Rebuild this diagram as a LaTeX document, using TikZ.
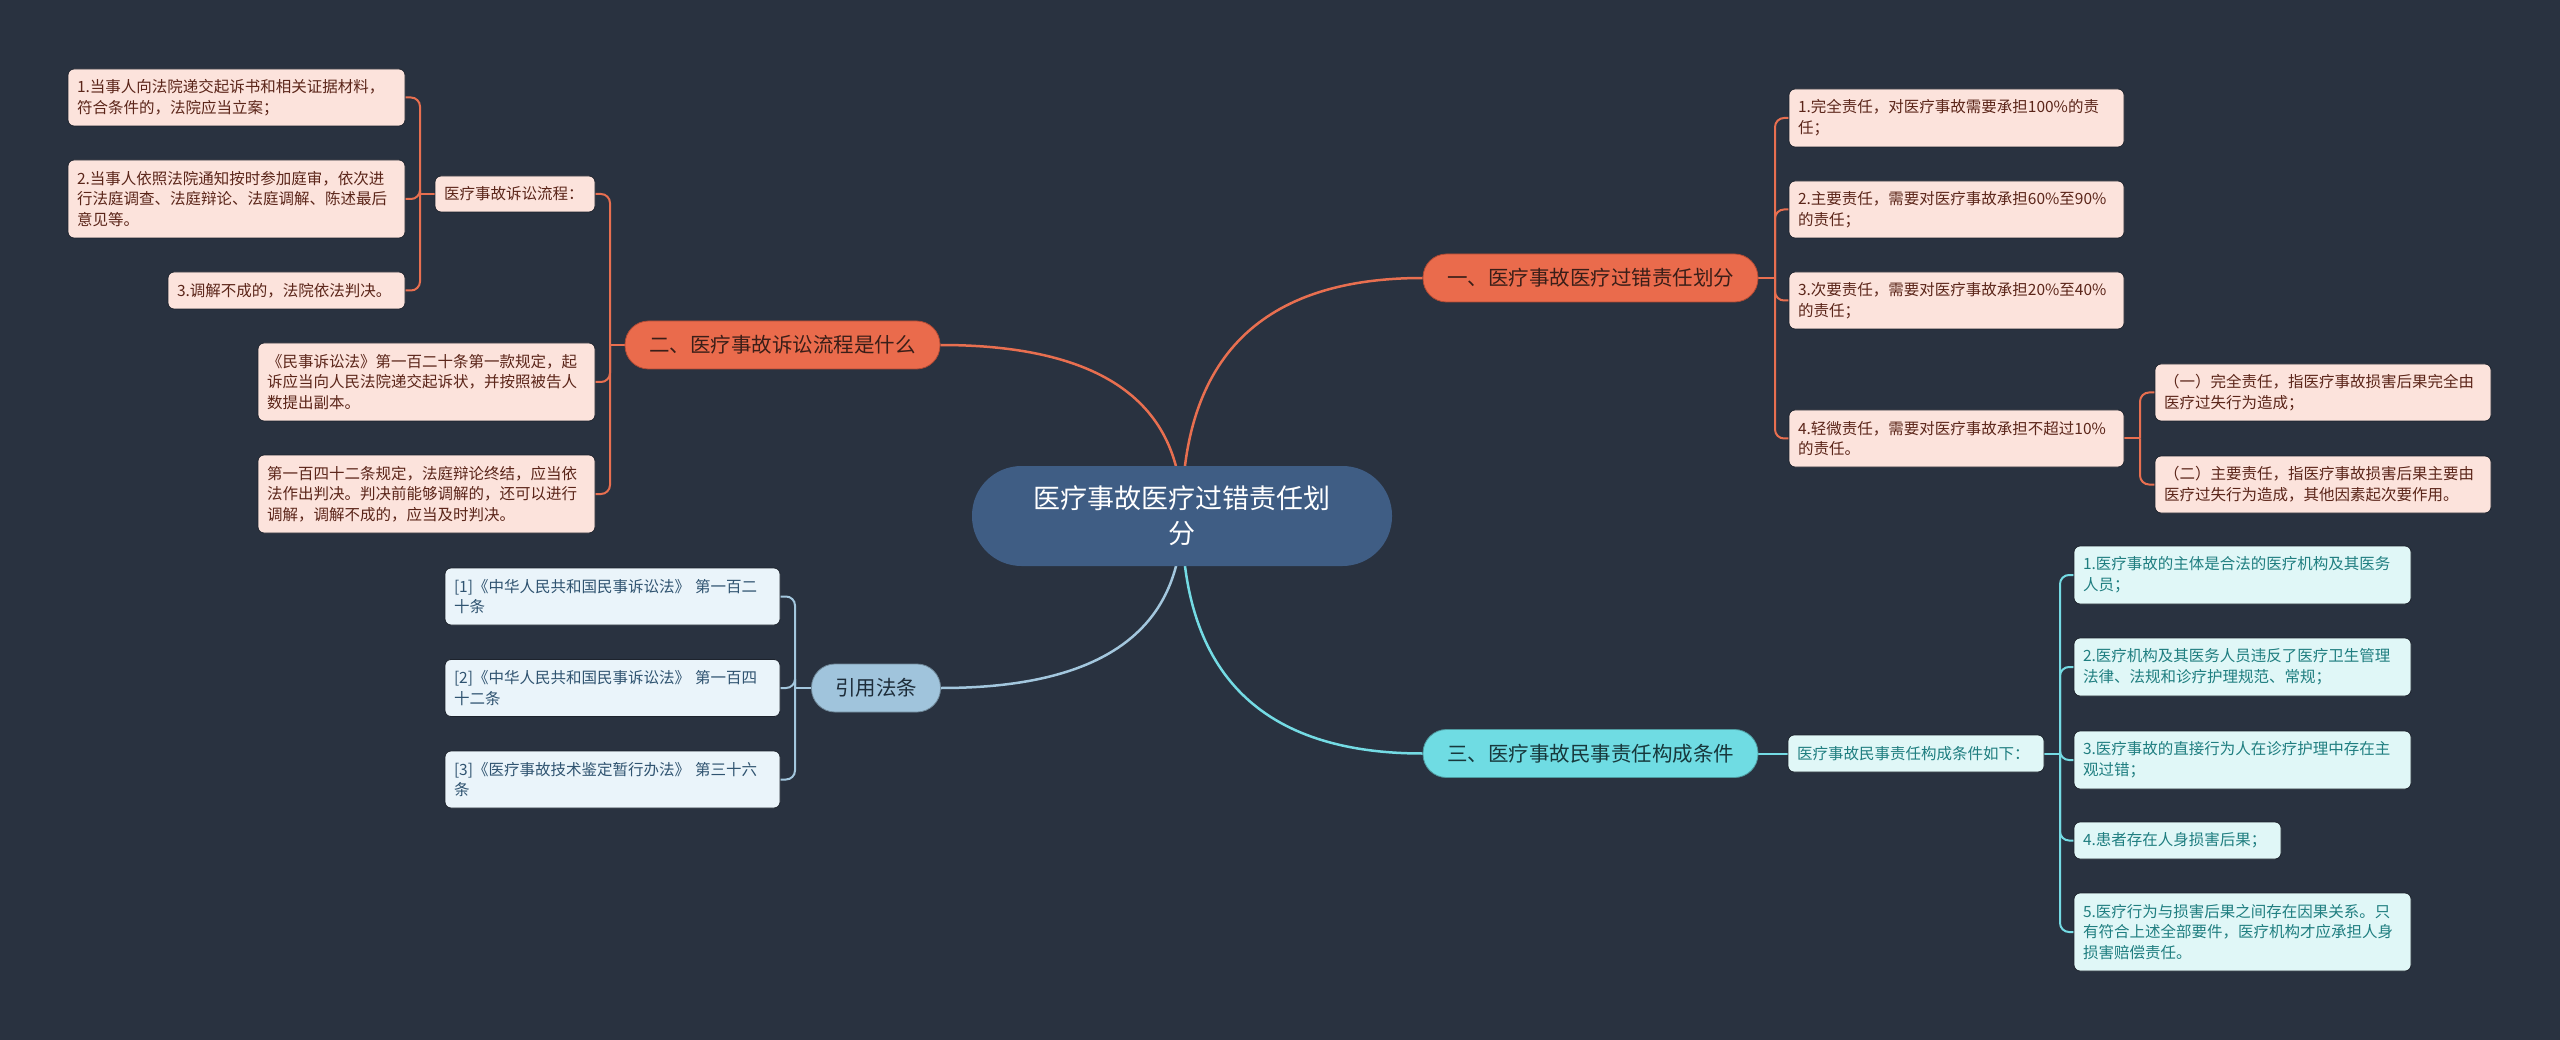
\documentclass[tikz,border=0pt]{standalone}
\usepackage{fontspec}
\setmainfont{Noto Sans CJK SC}
\definecolor{bgc}{HTML}{293240}
\definecolor{rootc}{HTML}{3F5D84}
\definecolor{obr}{HTML}{EA6B4C}
\definecolor{obrd}{HTML}{B04A34}
\definecolor{obrt}{HTML}{3A1E18}
\definecolor{olf}{HTML}{FCE3DC}
\definecolor{olft}{HTML}{5B2519}
\definecolor{oln}{HTML}{E86F50}
\definecolor{bbr}{HTML}{A0C4DC}
\definecolor{bbrt}{HTML}{1E2D3A}
\definecolor{blf}{HTML}{EAF4FA}
\definecolor{blft}{HTML}{2F5370}
\definecolor{bln}{HTML}{A3C7DE}
\definecolor{cbr}{HTML}{6FDCE3}
\definecolor{cbrt}{HTML}{17383C}
\definecolor{clf}{HTML}{E0F7F7}
\definecolor{clft}{HTML}{1F7E80}
\definecolor{cln}{HTML}{74DBE4}
\definecolor{edgec}{HTML}{1D232D}
\pgfdeclarelayer{bgl}
\pgfdeclarelayer{linel}
\pgfsetlayers{bgl,linel,main}
\begin{document}
\begin{tikzpicture}[x=1pt,y=-1pt,
  leafbox/.style={rectangle, rounded corners=6pt, inner xsep=9pt, inner ysep=2pt, align=left,
    font=\fontsize{15.5}{20.7}\selectfont, draw=edgec, line width=0.8pt},
  oleaf/.style={leafbox, fill=olf, text=olft},
  bleaf/.style={leafbox, fill=blf, text=blft},
  cleaf/.style={leafbox, fill=clf, text=clft},
  brbox/.style={rectangle, rounded corners=23.5pt, minimum height=48pt, inner sep=0pt,
    font=\fontsize{20.5}{24}\selectfont, line width=0.8pt},
  obranch/.style={brbox, fill=obr, draw=obrd, text=obrt},
  bbranch/.style={brbox, fill=bbr, draw=bbr!70!black, text=bbrt},
  cbranch/.style={brbox, fill=cbr, draw=cbr!70!black, text=cbrt},
  rootbox/.style={rectangle, rounded corners=49.5pt, minimum width=420pt, minimum height=100pt,
    fill=rootc, text=white, align=center, font=\fontsize{27}{35}\selectfont, inner sep=0pt},
  ol/.style={draw=oln, line width=2pt},
  bl/.style={draw=bln, line width=2pt},
  cl/.style={draw=cln, line width=2pt},
  rcorner/.style={rounded corners=9pt}
]
\useasboundingbox (0,0) rectangle (2560,1040);
\begin{pgfonlayer}{bgl}
\fill[bgc] (0,0) rectangle (2560,1040);
\end{pgfonlayer}

% root
\node[rootbox] (root) at (1182,516) {医疗事故医疗过错责任划\\分};

% branches
\node[obranch, minimum width=335pt] (b1) at (1590.5,278) {一、医疗事故医疗过错责任划分};
\node[obranch, minimum width=315pt] (b2) at (782.5,345) {二、医疗事故诉讼流程是什么};
\node[bbranch, minimum width=129pt] (b4) at (876,688) {引用法条};
\node[cbranch, minimum width=335pt] (b3) at (1590.5,753.5) {三、医疗事故民事责任构成条件};

% branch 1 leaves
\node[oleaf, text width=317pt, minimum height=58pt] (r1) at (1956.5,118) {1.完全责任，对医疗事故需要承担100\%的责\\任；};
\node[oleaf, text width=317pt, minimum height=57pt] (r2) at (1956.5,209.5) {2.主要责任，需要对医疗事故承担60\%至90\%\\的责任；};
\node[oleaf, text width=317pt, minimum height=57pt] (r3) at (1956.5,300.5) {3.次要责任，需要对医疗事故承担20\%至40\%\\的责任；};
\node[oleaf, text width=317pt, minimum height=57pt] (r4) at (1956.5,438.5) {4.轻微责任，需要对医疗事故承担不超过10\%\\的责任。};
\node[oleaf, text width=318pt, minimum height=57pt] (r4a) at (2323,392.5) {（一）完全责任，指医疗事故损害后果完全由\\医疗过失行为造成；};
\node[oleaf, text width=318pt, minimum height=57pt] (r4b) at (2323,484.5) {（二）主要责任，指医疗事故损害后果主要由\\医疗过失行为造成，其他因素起次要作用。};

% branch 2 leaves
\node[oleaf, text width=142pt, minimum height=36pt] (s1) at (515,194) {医疗事故诉讼流程：};
\node[oleaf, text width=319pt, minimum height=57pt] (l1) at (236.5,97.5) {1.当事人向法院递交起诉书和相关证据材料，\\符合条件的，法院应当立案；};
\node[oleaf, text width=319pt, minimum height=78pt] (l2) at (236.5,199) {2.当事人依照法院通知按时参加庭审，依次进\\行法庭调查、法庭辩论、法庭调解、陈述最后\\意见等。};
\node[oleaf, text width=219pt, minimum height=37pt] (l3) at (286.5,290.5) {3.调解不成的，法院依法判决。};
\node[oleaf, text width=319pt, minimum height=78pt] (l4) at (426.5,382) {《民事诉讼法》第一百二十条第一款规定，起\\诉应当向人民法院递交起诉状，并按照被告人\\数提出副本。};
\node[oleaf, text width=319pt, minimum height=78pt] (l5) at (426.5,494) {第一百四十二条规定，法庭辩论终结，应当依\\法作出判决。判决前能够调解的，还可以进行\\调解，调解不成的，应当及时判决。};

% citations
\node[bleaf, text width=317pt, minimum height=57pt] (q1) at (612.5,596.5) {[1]《中华人民共和国民事诉讼法》 第一百二\\十条};
\node[bleaf, text width=317pt, minimum height=57pt] (q2) at (612.5,688) {[2]《中华人民共和国民事诉讼法》 第一百四\\十二条};
\node[bleaf, text width=317pt, minimum height=57pt] (q3) at (612.5,779.5) {[3]《医疗事故技术鉴定暂行办法》 第三十六\\条};

% branch 3 leaves
\node[cleaf, text width=238pt, minimum height=37pt] (c0) at (1916,753.5) {医疗事故民事责任构成条件如下：};
\node[cleaf, text width=319pt, minimum height=58pt] (c1) at (2242.5,575) {1.医疗事故的主体是合法的医疗机构及其医务\\人员；};
\node[cleaf, text width=319pt, minimum height=58pt] (c2) at (2242.5,667) {2.医疗机构及其医务人员违反了医疗卫生管理\\法律、法规和诊疗护理规范、常规；};
\node[cleaf, text width=319pt, minimum height=58pt] (c3) at (2242.5,760) {3.医疗事故的直接行为人在诊疗护理中存在主\\观过错；};
\node[cleaf, text width=189pt, minimum height=37pt] (c4) at (2177.5,840.5) {4.患者存在人身损害后果；};
\node[cleaf, text width=319pt, minimum height=78pt] (c5) at (2242.5,932) {5.医疗行为与损害后果之间存在因果关系。只\\有符合上述全部要件，医疗机构才应承担人身\\损害赔偿责任。};

% junction points
\coordinate (k1) at (1775,278);
\coordinate (k1b) at (2140,438.5);
\coordinate (k2) at (610,345);
\coordinate (k2b) at (420,194);
\coordinate (k4) at (795,688);
\coordinate (k3) at (2060,753.5);

\begin{pgfonlayer}{linel}
% root to branches
\draw[ol, line width=2.5pt] (root.center) .. controls +(0,-159) and +(-161,0) .. (b1.west);
\draw[ol, line width=2.5pt] (root.center) .. controls +(0,-114) and +(161,0) .. (b2.east);
\draw[bl, line width=2.5pt] (root.center) .. controls +(0,115) and +(161,0) .. (b4.east);
\draw[cl, line width=2.5pt] (root.center) .. controls +(0,158) and +(-161,0) .. (b3.west);

% branch 1
\draw[ol] (b1.east) -- (k1);
\foreach \n in {r1,r2,r3,r4} \draw[ol, rcorner] (k1) |- (\n.west);
\draw[ol] (r4.east) -- (k1b);
\foreach \n in {r4a,r4b} \draw[ol, rcorner] (k1b) |- (\n.west);

% branch 2
\draw[ol] (b2.west) -- (k2);
\foreach \n in {s1,l4,l5} \draw[ol, rcorner] (k2) |- (\n.east);
\draw[ol] (s1.west) -- (k2b);
\foreach \n in {l1,l2,l3} \draw[ol, rcorner] (k2b) |- (\n.east);

% citations
\draw[bl] (b4.west) -- (k4);
\foreach \n in {q1,q2,q3} \draw[bl, rcorner] (k4) |- (\n.east);

% branch 3
\draw[cl] (b3.east) -- (c0.west);
\draw[cl] (c0.east) -- (k3);
\foreach \n in {c1,c2,c3,c4,c5} \draw[cl, rcorner] (k3) |- (\n.west);
\end{pgfonlayer}
\end{tikzpicture}
\end{document}
